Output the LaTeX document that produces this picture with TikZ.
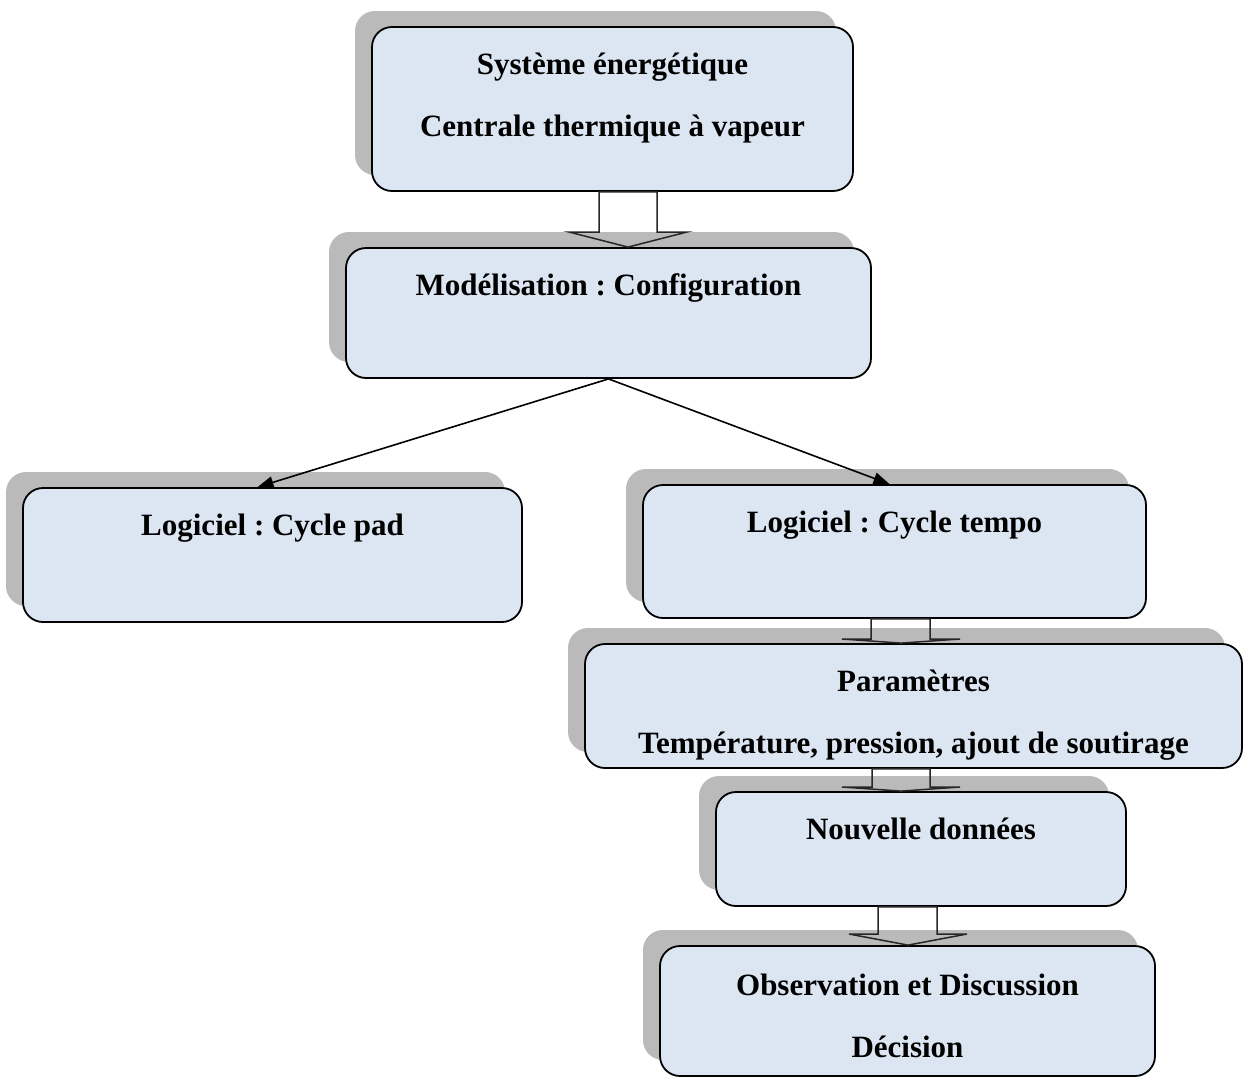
\documentclass[tikz,border=0pt]{standalone}
\usepackage{fontspec}
\setmainfont{Liberation Serif}
\frenchspacing
\usetikzlibrary{shadows,arrows.meta}
\definecolor{boxblue}{HTML}{DCE6F2}
\definecolor{shadowgray}{HTML}{BABABA}
\tikzstyle{box}=[draw=black, line width=1.8pt, rounded corners=20pt, fill=boxblue, inner sep=0pt, drop shadow={shadow xshift=-17pt, shadow yshift=16pt, fill=shadowgray, opacity=1}]
\tikzstyle{txt}=[anchor=north, inner sep=0pt, align=center, font=\fontsize{31}{62}\selectfont\bfseries]
\tikzstyle{blockarrow}=[draw=black!85, line width=1.5pt, line join=miter]
\tikzstyle{link}=[draw=black, line width=1.6pt, -{Triangle[length=16pt,width=12pt]}]

\begin{document}
\begin{tikzpicture}[x=1pt, y=-1pt]
	\useasboundingbox (0,0) rectangle (1244,1079);
	%boxes
	\node[box, minimum width=481pt, minimum height=164pt] (b1) at (612.5,109) {};
	\node[box, minimum width=525pt, minimum height=130pt] (b2) at (608.5,313) {};
	\node[box, minimum width=499pt, minimum height=134pt] (b3) at (272.5,555) {};
	\node[box, minimum width=503pt, minimum height=133pt] (b4) at (894.5,551.5) {};
	\node[box, minimum width=657pt, minimum height=124pt] (b5) at (913.5,706) {};
	\node[box, minimum width=410pt, minimum height=114pt] (b6) at (921,849) {};
	\node[box, minimum width=495pt, minimum height=130pt] (b7) at (907.5,1011) {};
	%texts (first baseline 48pt below the top of the box)
	\node[txt] (t1) at (b1.north) {\rule{0pt}{48pt}Système énergétique\\Centrale thermique à vapeur};
	\node[txt] (t2) at (b2.north) {\rule{0pt}{48pt}Modélisation : Configuration};
	\node[txt] (t3) at (b3.north) {\rule{0pt}{48pt}Logiciel : Cycle pad};
	\node[txt] (t4) at (b4.north) {\rule{0pt}{48pt}Logiciel : Cycle tempo};
	\node[txt] (t5) at (b5.north) {\rule{0pt}{48pt}Paramètres\\Température, pression, ajout de soutirage};
	\node[txt] (t6) at (b6.north) {\rule{0pt}{48pt}Nouvelle données};
	\node[txt] (t7) at (b7.north) {\rule{0pt}{50pt}Observation et Discussion\\Décision};
	%block arrows
	\draw[blockarrow] (599,0 |- b1.south) -- (599,232) -- (569,232) -- (628,0 |- b2.north)
		-- (687,232) -- (657,232) -- (657,0 |- b1.south) -- cycle;
	\draw[blockarrow] (871,0 |- b4.south) -- (871,639) -- (842,639) -- (901,0 |- b5.north)
		-- (960,639) -- (930,639) -- (930,0 |- b4.south) -- cycle;
	\draw[blockarrow] (872,0 |- b5.south) -- (872,787) -- (842,787) -- (901,0 |- b6.north)
		-- (960,787) -- (930,787) -- (930,0 |- b5.south) -- cycle;
	\draw[blockarrow] (878,0 |- b6.south) -- (878,934) -- (849,934) -- (908,0 |- b7.north)
		-- (967,934) -- (937,934) -- (937,0 |- b6.south) -- cycle;
	%links
	\draw[link] (b2.south) -- ([xshift=-15pt]b3.north);
	\draw[link] (b2.south) -- ([xshift=-5pt]b4.north);
\end{tikzpicture}
\end{document}
